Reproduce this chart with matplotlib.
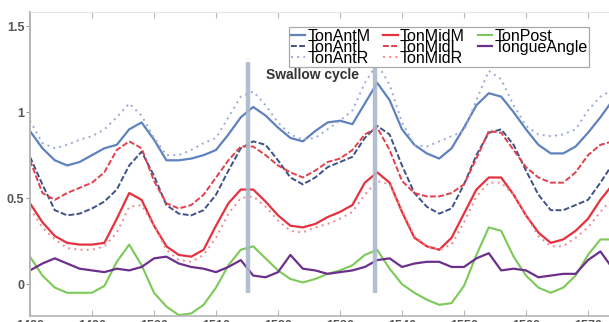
import matplotlib.pyplot as plt
import numpy as np

# sample frames (every 2nd frame)
frame = np.arange(1480, 1576, 2)

ton_ant_m = [0.89, 0.79, 0.72, 0.69, 0.71, 0.75, 0.79, 0.81, 0.90, 0.94, 0.84, 0.72,
             0.72, 0.73, 0.75, 0.78, 0.87, 0.97, 1.03, 0.98, 0.91, 0.85, 0.83, 0.89,
             0.94, 0.95, 0.93, 1.05, 1.17, 1.07, 0.90, 0.81, 0.76, 0.73, 0.79, 0.91,
             1.04, 1.11, 1.09, 1.00, 0.90, 0.81, 0.76, 0.76, 0.80, 0.88, 0.97, 1.07]
ton_ant_l = [0.74, 0.58, 0.43, 0.40, 0.41, 0.44, 0.48, 0.55, 0.69, 0.77, 0.63, 0.46,
             0.41, 0.40, 0.43, 0.52, 0.66, 0.79, 0.83, 0.81, 0.72, 0.62, 0.58, 0.62,
             0.68, 0.71, 0.74, 0.85, 0.92, 0.87, 0.69, 0.53, 0.45, 0.41, 0.44, 0.58,
             0.75, 0.88, 0.90, 0.81, 0.66, 0.52, 0.43, 0.43, 0.46, 0.49, 0.59, 0.70]
ton_ant_r = [0.95, 0.82, 0.79, 0.81, 0.84, 0.86, 0.90, 0.97, 1.05, 0.98, 0.85, 0.75,
             0.75, 0.78, 0.82, 0.85, 0.97, 1.09, 1.12, 1.04, 0.94, 0.87, 0.84, 0.85,
             0.90, 0.95, 1.01, 1.17, 1.28, 1.16, 0.94, 0.81, 0.80, 0.83, 0.86, 0.89,
             1.07, 1.24, 1.19, 1.04, 0.92, 0.87, 0.86, 0.87, 0.90, 1.01, 1.09, 1.13]
ton_mid_m = [0.47, 0.36, 0.28, 0.24, 0.23, 0.23, 0.24, 0.38, 0.53, 0.49, 0.34, 0.22,
             0.17, 0.16, 0.20, 0.34, 0.47, 0.55, 0.55, 0.48, 0.40, 0.34, 0.33, 0.35,
             0.39, 0.42, 0.46, 0.59, 0.65, 0.59, 0.42, 0.27, 0.22, 0.20, 0.27, 0.41,
             0.55, 0.62, 0.62, 0.52, 0.40, 0.30, 0.24, 0.26, 0.31, 0.38, 0.49, 0.58]
ton_mid_l = [0.72, 0.53, 0.49, 0.53, 0.56, 0.59, 0.65, 0.78, 0.83, 0.79, 0.60, 0.47,
             0.44, 0.46, 0.52, 0.62, 0.72, 0.80, 0.80, 0.75, 0.69, 0.65, 0.62, 0.66,
             0.71, 0.73, 0.78, 0.87, 0.91, 0.78, 0.60, 0.53, 0.51, 0.51, 0.53, 0.58,
             0.73, 0.89, 0.88, 0.78, 0.68, 0.62, 0.59, 0.59, 0.65, 0.75, 0.81, 0.83]
ton_mid_r = [0.44, 0.33, 0.26, 0.21, 0.20, 0.20, 0.22, 0.30, 0.45, 0.46, 0.34, 0.20,
             0.14, 0.13, 0.17, 0.27, 0.41, 0.50, 0.51, 0.45, 0.37, 0.31, 0.30, 0.33,
             0.35, 0.38, 0.42, 0.52, 0.60, 0.58, 0.43, 0.28, 0.22, 0.20, 0.23, 0.36,
             0.51, 0.59, 0.59, 0.52, 0.40, 0.28, 0.22, 0.22, 0.27, 0.33, 0.42, 0.50]
ton_post = [0.16, 0.05, -0.02, -0.05, -0.05, -0.05, -0.01, 0.13, 0.23, 0.11, -0.05, -0.13,
            -0.18, -0.17, -0.12, -0.02, 0.11, 0.20, 0.22, 0.15, 0.08, 0.03, 0.01, 0.03,
            0.06, 0.08, 0.11, 0.17, 0.20, 0.09, 0.00, -0.05, -0.09, -0.12, -0.11, -0.01,
            0.17, 0.33, 0.31, 0.16, 0.05, -0.02, -0.05, -0.02, 0.05, 0.17, 0.26, 0.26]
tongue_angle = [0.08, 0.12, 0.15, 0.12, 0.09, 0.08, 0.07, 0.09, 0.08, 0.10, 0.15, 0.16,
                0.12, 0.10, 0.09, 0.07, 0.10, 0.14, 0.05, 0.04, 0.07, 0.17, 0.09, 0.08,
                0.06, 0.07, 0.08, 0.10, 0.14, 0.15, 0.10, 0.12, 0.13, 0.13, 0.10, 0.10,
                0.15, 0.18, 0.08, 0.09, 0.08, 0.04, 0.05, 0.06, 0.06, 0.14, 0.19, 0.09]

swallow_frames = [1515.2, 1535.6]
swallow_span = (-0.05, 1.29)
xtick_values = np.arange(1480, 1580, 10)
ytick_values = [0, 0.5, 1, 1.5]
ytick_labels = ["0", "0.5", "1", "1.5"]

SERIES = [
    ("TonAntM", ton_ant_m, {"color": "#5f82bf", "linestyle": "-", "linewidth": 1.6}),
    ("TonAntL", ton_ant_l, {"color": "#3f5286", "linestyle": (0, (3, 1.2)), "linewidth": 1.4}),
    ("TonAntR", ton_ant_r, {"color": "#9ca9d6", "linestyle": (0, (1, 2.2)), "linewidth": 1.4}),
    ("TonMidM", ton_mid_m, {"color": "#e5323e", "linestyle": "-", "linewidth": 1.6}),
    ("TonMidL", ton_mid_l, {"color": "#e2404c", "linestyle": (0, (3, 1.2)), "linewidth": 1.4}),
    ("TonMidR", ton_mid_r, {"color": "#f08a8e", "linestyle": (0, (1, 2.2)), "linewidth": 1.4}),
    ("TonPost", ton_post, {"color": "#7cc957", "linestyle": "-", "linewidth": 1.5}),
    ("TongueAngle", tongue_angle, {"color": "#6c2f8c", "linestyle": "-", "linewidth": 1.6}),
]


def main() -> None:
    fig = plt.figure(figsize=(6.09, 3.22), dpi=100)
    ax = fig.add_axes([30 / 609, 6 / 322, 579 / 609, 304 / 322])

    handles = []
    for name, values, style in SERIES:
        (line,) = ax.plot(frame, values, label=name, solid_joinstyle="round",
                          dash_joinstyle="round", **style)
        handles.append(line)

    for xf in swallow_frames:
        ax.plot([xf, xf], swallow_span, color="#a9b8cc", linewidth=3.2, alpha=0.9,
                solid_capstyle="butt", zorder=4)
    ax.text(1525.5, 1.215, "Swallow cycle", ha="center", va="center",
            fontsize=10, fontweight="bold", color="#333333", family="Liberation Sans")

    ax.set_xlim(1480, 1480 + 579 / 6.2)
    ax.set_ylim(-0.185, 1.582)
    ax.set_xticks(xtick_values)
    ax.set_xticklabels([str(v) for v in xtick_values])
    ax.set_yticks(ytick_values)
    ax.set_yticklabels(ytick_labels)

    ax.tick_params(axis="x", direction="in", length=4, color="#b8b8b8", top=True,
                   labelsize=9, labelcolor="#555555", pad=3)
    ax.tick_params(axis="y", direction="out", length=3, color="#999999",
                   labelsize=9, labelcolor="#555555", pad=1)
    for lab in ax.get_yticklabels() + ax.get_xticklabels():
        lab.set_fontweight("bold")
        lab.set_family("Liberation Sans")

    ax.spines["right"].set_visible(False)
    ax.spines["left"].set_color("#b5b5b5")
    ax.spines["left"].set_linewidth(1.4)
    ax.spines["bottom"].set_color("#b5b5b5")
    ax.spines["bottom"].set_linewidth(1.2)
    ax.spines["top"].set_color("#e6e6e6")
    ax.spines["top"].set_linewidth(0.8)

    leg = fig.legend(
        handles,
        [s[0] for s in SERIES],
        ncol=3,
        loc="upper left",
        bbox_to_anchor=(289 / 609, 1 - 27 / 322),
        prop={"family": "Liberation Sans", "size": 11.5},
        labelspacing=-0.25,
        handlelength=0.9,
        handletextpad=0.15,
        columnspacing=0.8,
        borderpad=0.1,
        borderaxespad=0.0,
        frameon=True,
        fancybox=False,
        edgecolor="#a8a8a8",
        facecolor="white",
        framealpha=1.0,
    )
    leg.get_frame().set_linewidth(0.9)

    fig.savefig("out.png", dpi=100)
    plt.close(fig)


if __name__ == "__main__":
    main()
